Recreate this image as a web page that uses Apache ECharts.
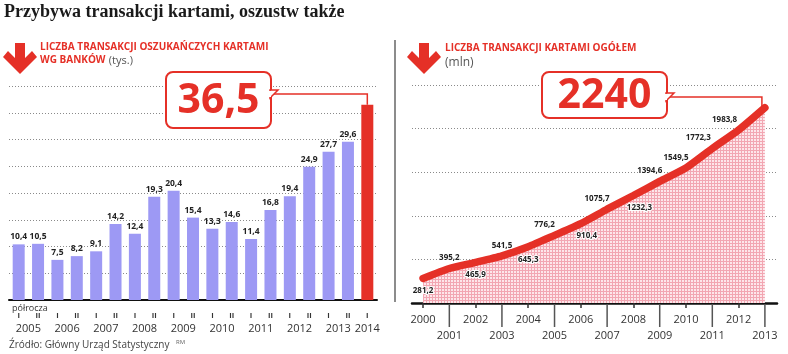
<!DOCTYPE html>
<html>
<head>
<meta charset="utf-8">
<script src="https://cdn.jsdelivr.net/npm/echarts@6/dist/echarts.min.js"></script>
<style>
html, body { margin: 0; padding: 0; background: #fff; }
#chart { width: 788px; height: 354px; }
</style>
</head>
<body>
<div id="chart"></div>
<script>
'use strict';

// lewy wykres: liczba transakcji oszukańczych (tys.), półrocza
var halfYears = ['I', 'II', 'I', 'II', 'I', 'II', 'I', 'II', 'I', 'II', 'I', 'II', 'I', 'II', 'I', 'II', 'I', 'II', 'I'];
var halfYearYears = [2005, 2005, 2006, 2006, 2007, 2007, 2008, 2008, 2009, 2009, 2010, 2010, 2011, 2011, 2012, 2012, 2013, 2013, 2014];
var fraudValues = [10.4, 10.5, 7.5, 8.2, 9.1, 14.2, 12.4, 19.3, 20.4, 15.4, 13.3, 14.6, 11.4, 16.8, 19.4, 24.9, 27.7, 29.6, 36.5];

// prawy wykres: liczba transakcji kartami ogółem (mln)
var years = [2000, 2001, 2002, 2003, 2004, 2005, 2006, 2007, 2008, 2009, 2010, 2011, 2012, 2013];
var totalValues = [281.2, 395.2, 465.9, 541.5, 645.3, 776.2, 910.4, 1075.7, 1232.3, 1394.6, 1549.5, 1772.3, 1983.8, 2240];

var RED = '#e53027';
var BAR = '#9d99f4';
var fmt = function (v) { return String(v).replace('.', ','); };

// pozycje podpisów lat na lewej osi (środek półroczy danego roku)
var yearPos = {};
halfYearYears.forEach(function (y, i) {
    (yearPos[y] = yearPos[y] || []).push(i);
});
var leftYearTicks = Object.keys(yearPos).map(function (y) {
    var a = yearPos[y];
    return (a[0] + a[a.length - 1]) / 2;
});
var tickToYear = {};
Object.keys(yearPos).forEach(function (y, k) { tickToYear[leftYearTicks[k]] = y; });

var evenYears = years.filter(function (y) { return y % 2 === 0; });

// wzór kratki pod linią
var pat = document.createElement('canvas');
pat.width = 3; pat.height = 3;
var pctx = pat.getContext('2d');
pctx.fillStyle = '#fde6ea';
pctx.fillRect(0, 0, 3, 3);
pctx.fillStyle = '#f2a6b2';
pctx.fillRect(0, 0, 3, 1);
pctx.fillRect(0, 0, 1, 3);

var gridLine = { show: true, lineStyle: { color: '#8a8a8a', type: [1, 2], width: 1 } };

// podpisy przy linii: nad / pod, później przesunięte w lewo
function labelAbove(i) { return i >= 9 || i % 2 === 1; }

var chart = echarts.init(document.getElementById('chart'));

chart.setOption({
    animation: false,
    grid: [
        { left: 9, right: 411, top: 86, bottom: 54 },
        { left: 412, right: 11, top: 85, bottom: 51 }
    ],
    xAxis: [
        {
            type: 'category', gridIndex: 0, position: 'bottom', data: halfYears,
            axisLine: { lineStyle: { color: '#111', width: 2 } },
            axisTick: { show: false },
            axisLabel: { color: '#333', fontSize: 7.5, fontWeight: 'bold', fontFamily: 'Open Sans', margin: 12, interval: 0 }
        },
        {
            type: 'value', gridIndex: 0, position: 'bottom', min: -0.5, max: 18.5,
            axisLine: { show: false }, axisTick: { show: false }, splitLine: { show: false },
            axisLabel: {
                customValues: leftYearTicks, margin: 23,
                color: '#333', fontSize: 11, fontFamily: 'Open Sans',
                formatter: function (v) { return tickToYear[v]; }
            }
        },
        {
            type: 'value', gridIndex: 1, position: 'bottom', min: 1999.58, max: 2013.46,
            axisLine: { lineStyle: { color: '#111', width: 2.5 } },
            axisTick: { customValues: evenYears, length: 5, lineStyle: { color: '#333', width: 1.5 } },
            splitLine: { show: false },
            axisLabel: {
                customValues: years, margin: 1,
                color: '#333', fontSize: 11, fontFamily: 'Open Sans',
                // lata nieparzyste: długa kreska nad podpisem
                formatter: function (v) { return v % 2 ? '{t| }\n{b|' + v + '}' : '{a|' + v + '}'; },
                rich: {
                    t: { width: 1.5, height: 23, lineHeight: 23, fontSize: 1, backgroundColor: '#555' },
                    a: { fontSize: 11, fontFamily: 'Open Sans', color: '#333', padding: [10, 0, 0, 0] },
                    b: { fontSize: 11, fontFamily: 'Open Sans', color: '#333', lineHeight: 17 }
                }
            }
        }
    ],
    yAxis: [
        {
            type: 'value', gridIndex: 0, min: 0, max: 40, interval: 5,
            axisLine: { show: false }, axisTick: { show: false }, axisLabel: { show: false },
            splitLine: gridLine
        },
        {
            type: 'value', gridIndex: 1, min: 0, max: 2500, interval: 500,
            axisLine: { show: false }, axisTick: { show: false }, axisLabel: { show: false },
            splitLine: gridLine
        }
    ],
    series: [
        {
            type: 'bar', xAxisIndex: 0, yAxisIndex: 0,
            data: fraudValues, barWidth: 12,
            itemStyle: {
                color: function (p) { return p.dataIndex === fraudValues.length - 1 ? RED : BAR; }
            },
            label: {
                show: true, position: 'top', distance: 3,
                fontSize: 8.5, fontWeight: 'bold', fontFamily: 'Open Sans', color: '#222',
                formatter: function (p) { return p.dataIndex === fraudValues.length - 1 ? '' : fmt(p.value); }
            },
            z: 3
        },
        {
            type: 'line', xAxisIndex: 2, yAxisIndex: 1,
            smooth: 0.2, symbol: 'circle', symbolSize: 1, showSymbol: true,
            itemStyle: { color: 'rgba(0,0,0,0)' },
            lineStyle: { color: RED, width: 7.5, cap: 'round' },
            areaStyle: { color: { image: pat, repeat: 'repeat' }, opacity: 1 },
            data: years.map(function (y, i) {
                return {
                    value: [y, totalValues[i]],
                    label: {
                        show: i !== years.length - 1,
                        position: labelAbove(i) ? 'top' : 'bottom',
                        distance: labelAbove(i) ? 6 : 8
                    }
                };
            }),
            label: {
                show: true,
                fontSize: 8, fontWeight: 'bold', fontFamily: 'Open Sans', color: '#222',
                textBorderColor: '#fff', textBorderWidth: 2,
                formatter: function (p) { return fmt(p.value[1]); }
            },
            labelLayout: function (p) {
                var i = p.dataIndex;
                var dx = labelAbove(i) ? (i >= 11 ? -14 : (i >= 5 ? -10 : 0)) : (i >= 6 ? 6 : 0);
                return { dx: dx, hideOverlap: false };
            },
            z: 3
        }
    ]
});

// dymki z ostatnią wartością
function callout(x, y, w, h, text, target, notchY) {
    return [
        {
            type: 'polyline', z: 10,
            shape: { points: [[x + w, notchY], [target[0], notchY], [target[0], target[1]]] },
            style: { stroke: RED, lineWidth: 1.5, fill: null }
        },
        {
            type: 'rect', z: 11,
            shape: { x: x, y: y, width: w, height: h, r: 7 },
            style: { fill: '#fff', stroke: RED, lineWidth: 2 }
        },
        {
            type: 'polygon', z: 12,
            shape: { points: [[x + w - 1, notchY - 4], [x + w + 7, notchY - 4], [x + w - 1, notchY + 4]] },
            style: { fill: '#fff', stroke: RED, lineWidth: 1.5 }
        },
        {
            type: 'rect', z: 13,
            shape: { x: x + w - 3, y: notchY - 3, width: 3, height: 6 },
            style: { fill: '#fff' }
        },
        {
            type: 'text', z: 14,
            style: {
                text: text, x: x + w / 2, y: y + h / 2 + 1,
                textAlign: 'center', textVerticalAlign: 'middle',
                font: 'bold 41px "Open Sans"', fill: RED
            }
        }
    ];
}

function arrow(dx, dy) {
    var pts = [[14, 0], [24, 0], [24, 15], [31, 8], [36, 14], [19, 31], [2, 14], [7, 8], [14, 15]];
    return {
        type: 'polygon', z: 10,
        shape: { points: pts.map(function (p) { return [p[0] + dx, p[1] + dy]; }) },
        style: { fill: RED }
    };
}

var barTop = chart.convertToPixel({ seriesIndex: 0 }, [fraudValues.length - 1, fraudValues[fraudValues.length - 1]]);
var lineEnd = chart.convertToPixel({ seriesIndex: 1 }, [years[years.length - 1], totalValues[totalValues.length - 1]]);

var graphics = [
    {
        type: 'text', z: 10,
        style: { text: 'Przybywa transakcji kartami, oszustw także', x: 4, y: 3, font: 'bold 18px "Liberation Serif"', fill: '#1a1a1a' }
    },
    arrow(1, 43),
    arrow(405, 43),
    {
        type: 'text', z: 10,
        style: {
            text: '{r|LICZBA TRANSAKCJI OSZUKAŃCZYCH KARTAMI}\n{r|WG BANKÓW} {g|(tys.)}',
            x: 40, y: 41,
            rich: {
                r: { font: 'bold 10px "Open Sans"', fill: RED, lineHeight: 13 },
                g: { font: '11px "Open Sans"', fill: '#555', lineHeight: 13 }
            }
        }
    },
    {
        type: 'text', z: 10,
        style: {
            text: '{r|LICZBA TRANSAKCJI KARTAMI OGÓŁEM}\n{g|(mln)}',
            x: 445, y: 42,
            rich: {
                r: { font: 'bold 10px "Open Sans"', fill: RED, lineHeight: 13 },
                g: { font: '12px "Open Sans"', fill: '#555', lineHeight: 15 }
            }
        }
    },
    {
        type: 'line', z: 10,
        shape: { x1: 395, y1: 40, x2: 395, y2: 302 },
        style: { stroke: '#666', lineWidth: 1.5 }
    },
    {
        type: 'text', z: 10,
        style: { text: 'półrocza', x: 12, y: 304, font: '9px "Open Sans"', fill: '#333' }
    },
    {
        type: 'text', z: 10,
        style: { text: 'Źródło: Główny Urząd Statystyczny', x: 9, y: 340, font: '10px "Open Sans"', fill: '#444' }
    },
    {
        type: 'text', z: 10,
        style: { text: 'RM', x: 176, y: 339, font: '6px "Open Sans"', fill: '#666' }
    }
].concat(
    callout(166, 72, 105, 56, fmt(fraudValues[fraudValues.length - 1]), [barTop[0], barTop[1]], 94),
    callout(542, 72, 125, 46, fmt(totalValues[totalValues.length - 1]), [lineEnd[0] - 3, lineEnd[1]], 97)
);

chart.setOption({ graphic: graphics });
</script>
</body>
</html>
